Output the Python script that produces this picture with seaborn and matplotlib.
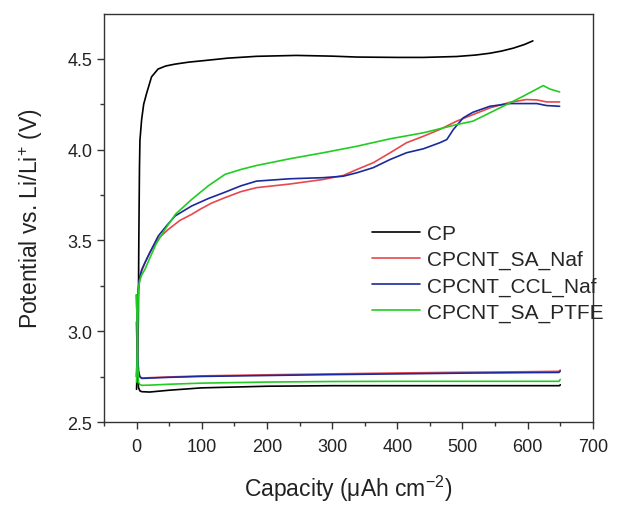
import numpy as np
import pandas as pd
import matplotlib
matplotlib.use("Agg")
import matplotlib.pyplot as plt
import seaborn as sns

# ---------------- data ----------------
samples = ["CP", "CPCNT_SA_Naf", "CPCNT_CCL_Naf", "CPCNT_SA_PTFE"]
colors = ["#000000", "#e8474c", "#1a2a9c", "#22cc22"]

# charge curves
cp_chg_x = [0, 1.5, 2.7, 3.5, 4.5, 5.2, 7.8, 11, 15.5, 23, 33, 45, 59, 80, 105, 140, 184, 245, 300, 338, 400, 440, 491, 520, 542, 560, 578, 595, 608]
cp_chg_y = [2.68, 2.85, 3.05, 3.5, 3.9, 4.05, 4.165, 4.25, 4.31, 4.40, 4.443, 4.46, 4.47, 4.481, 4.49, 4.503, 4.513, 4.518, 4.514, 4.509, 4.507, 4.507, 4.512, 4.520, 4.530, 4.542, 4.558, 4.578, 4.598]

sa_naf_chg_x = [0, 1.5, 2.7, 5, 8, 12.9, 20, 33.3, 48.6, 66.6, 84.5, 97, 115, 135.6, 160, 184, 235, 286, 317, 338, 363, 389, 414, 440, 465, 491, 516, 542, 573, 598, 614, 629, 649]
sa_naf_chg_y = [2.75, 2.95, 3.23, 3.29, 3.33, 3.377, 3.43, 3.51, 3.56, 3.61, 3.643, 3.67, 3.705, 3.735, 3.768, 3.79, 3.81, 3.835, 3.857, 3.89, 3.927, 3.982, 4.037, 4.073, 4.11, 4.156, 4.192, 4.229, 4.26, 4.275, 4.273, 4.262, 4.262]

ccl_naf_chg_x = [0, 1.5, 2.7, 5, 8, 12.9, 20, 33.3, 46, 59, 84.5, 110, 135.6, 160, 184, 235, 286, 317, 338, 363, 389, 414, 440, 465, 476, 486, 501, 516, 542, 573, 614, 629, 649]
ccl_naf_chg_y = [2.75, 2.95, 3.23, 3.30, 3.34, 3.377, 3.43, 3.524, 3.58, 3.634, 3.689, 3.73, 3.765, 3.80, 3.826, 3.839, 3.845, 3.853, 3.872, 3.90, 3.945, 3.982, 4.004, 4.037, 4.055, 4.11, 4.174, 4.205, 4.238, 4.253, 4.253, 4.242, 4.238]

sa_ptfe_chg_x = [0, 1.5, 2.7, 5, 8, 12.9, 20, 30, 43.6, 60, 84.5, 110, 135.6, 160, 184, 235, 286, 338, 389, 440, 491, 516, 542, 573, 593, 614, 624, 634, 649]
sa_ptfe_chg_y = [2.72, 2.95, 3.23, 3.28, 3.31, 3.34, 3.40, 3.48, 3.56, 3.645, 3.725, 3.80, 3.863, 3.89, 3.912, 3.949, 3.982, 4.018, 4.059, 4.092, 4.137, 4.156, 4.202, 4.257, 4.293, 4.333, 4.352, 4.333, 4.317]

# discharge curves
cp_dis_x = [0, 1, 2, 3, 5, 8, 20, 50, 100, 200, 300, 400, 500, 600, 649, 650]
cp_dis_y = [3.05, 2.85, 2.74, 2.69, 2.672, 2.667, 2.665, 2.675, 2.688, 2.697, 2.70, 2.70, 2.70, 2.70, 2.70, 2.705]

sa_naf_dis_x = [0, 1, 2, 3, 5, 8, 20, 50, 100, 200, 300, 400, 500, 600, 648, 650]
sa_naf_dis_y = [3.2, 3.0, 2.85, 2.78, 2.75, 2.742, 2.744, 2.748, 2.754, 2.760, 2.765, 2.770, 2.774, 2.777, 2.779, 2.786]

ccl_naf_dis_x = [0, 1, 2, 3, 5, 8, 20, 50, 100, 200, 300, 400, 500, 600, 648, 650]
ccl_naf_dis_y = [3.2, 3.0, 2.85, 2.78, 2.75, 2.740, 2.742, 2.746, 2.751, 2.756, 2.761, 2.765, 2.769, 2.772, 2.773, 2.780]

sa_ptfe_dis_x = [0, 1, 2, 3, 5, 8, 20, 50, 100, 200, 300, 400, 500, 600, 648, 650]
sa_ptfe_dis_y = [3.2, 3.0, 2.80, 2.72, 2.706, 2.702, 2.703, 2.708, 2.714, 2.720, 2.723, 2.724, 2.724, 2.724, 2.724, 2.734]

x_ticks = [0, 100, 200, 300, 400, 500, 600, 700]
y_ticks = [2.5, 3.0, 3.5, 4.0, 4.5]

# ---------------- build table ----------------
frames = []
curves = [
    ("CP", "chg", cp_chg_x, cp_chg_y), ("CP", "dis", cp_dis_x, cp_dis_y),
    ("CPCNT_SA_Naf", "chg", sa_naf_chg_x, sa_naf_chg_y), ("CPCNT_SA_Naf", "dis", sa_naf_dis_x, sa_naf_dis_y),
    ("CPCNT_CCL_Naf", "chg", ccl_naf_chg_x, ccl_naf_chg_y), ("CPCNT_CCL_Naf", "dis", ccl_naf_dis_x, ccl_naf_dis_y),
    ("CPCNT_SA_PTFE", "chg", sa_ptfe_chg_x, sa_ptfe_chg_y), ("CPCNT_SA_PTFE", "dis", sa_ptfe_dis_x, sa_ptfe_dis_y),
]
for name, seg, xs, ys in curves:
    frames.append(pd.DataFrame({"capacity": xs, "potential": ys,
                                "sample": name, "segment": name + "_" + seg}))
df = pd.concat(frames, ignore_index=True)

# ---------------- style ----------------
sns.set_theme(style="ticks")
plt.rcParams["font.family"] = ["Liberation Sans", "DejaVu Sans"]
plt.rcParams["mathtext.fontset"] = "custom"
plt.rcParams["mathtext.rm"] = "Liberation Sans"
plt.rcParams["mathtext.it"] = "Liberation Sans:italic"
plt.rcParams["mathtext.bf"] = "Liberation Sans:bold"

fig = plt.figure(figsize=(6.30, 5.06), dpi=100)
ax = fig.add_axes([0.165, 0.164, 0.776, 0.806])

sns.lineplot(data=df, x="capacity", y="potential", hue="sample", units="segment",
             estimator=None, sort=False, hue_order=samples,
             palette=dict(zip(samples, colors)), linewidth=1.2, ax=ax)

ax.set_xlim(-50, 700)
ax.set_ylim(2.5, 4.745)
ax.set_xticks(x_ticks)
ax.set_yticks(y_ticks)
ax.set_xticklabels([str(v) for v in x_ticks])
ax.set_yticklabels([f"{v:.1f}" for v in y_ticks])
ax.set_xticks(np.arange(-50, 701, 50), minor=True)
ax.set_yticks(np.arange(2.5, 4.75, 0.25), minor=True)
ax.tick_params(axis="both", which="major", direction="out", length=5, width=1.0,
               labelsize=13, color="#333333", labelcolor="#222222")
ax.tick_params(axis="x", which="major", pad=6.5)
ax.tick_params(axis="both", which="minor", direction="out", length=3, width=1.0,
               color="#333333")
for s in ax.spines.values():
    s.set_linewidth(1.0)
    s.set_color("#333333")

ax.set_xlabel("Capacity (\u03bcAh cm$^{-2}$)", fontsize=16.5, labelpad=13, color="#222222")
ax.set_ylabel("Potential vs. Li/Li$^{+}$ (V)", fontsize=16.5, labelpad=16, color="#222222")

leg = ax.legend(loc="upper left", bbox_to_anchor=(0.532, 0.506), frameon=False,
                fontsize=15, handlelength=2.3, handletextpad=0.3, labelspacing=0.34,
                borderaxespad=0.0)
for line in leg.get_lines():
    line.set_linewidth(1.2)

fig.savefig("out.png", dpi=100)
